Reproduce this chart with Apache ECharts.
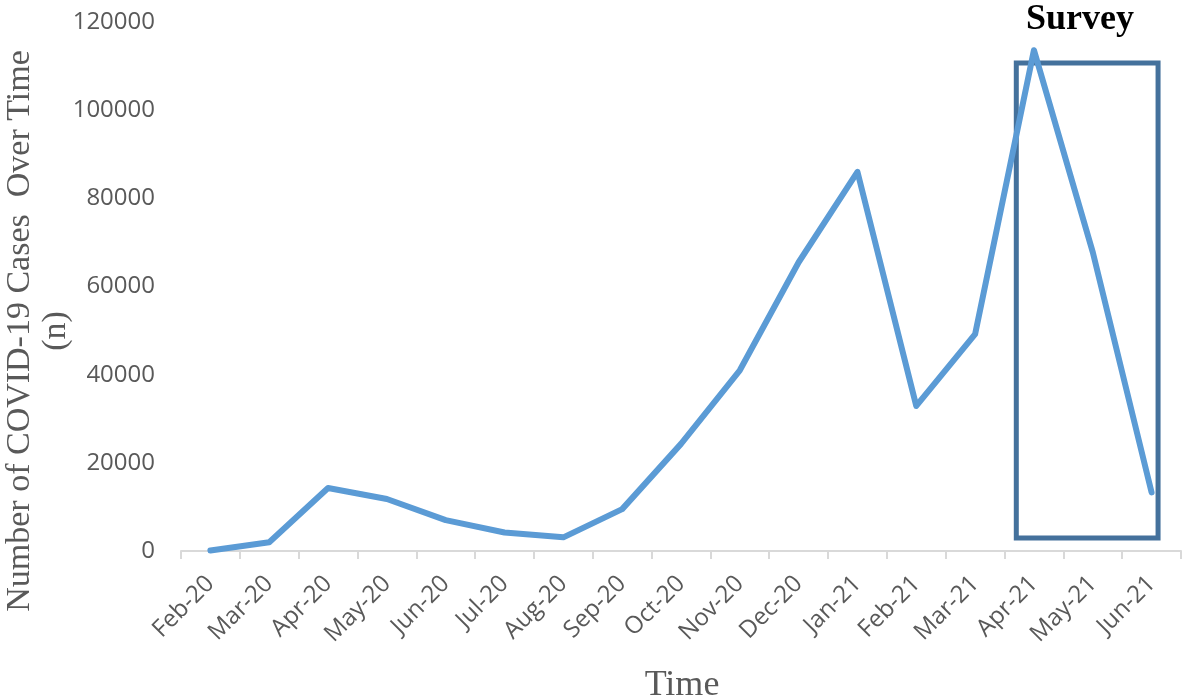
<!DOCTYPE html>
<html>
<head>
<meta charset="utf-8">
<script src="https://cdn.jsdelivr.net/npm/echarts@6/dist/echarts.min.js"></script>
<style>html,body{margin:0;padding:0;background:#fff;}#c{width:1184px;height:699px;}</style>
</head>
<body>
<div id="c"></div>
<script>
const categories = ['Feb-20','Mar-20','Apr-20','May-20','Jun-20','Jul-20','Aug-20','Sep-20','Oct-20','Nov-20','Dec-20','Jan-21','Feb-21','Mar-21','Apr-21','May-21','Jun-21'];
const cases = [100, 2000, 14300, 11800, 7000, 4200, 3100, 9500, 24300, 41000, 65500, 86000, 32900, 49200, 113600, 67800, 13300];
const yTicks = {min: 0, max: 120000, interval: 20000};
// Survey box: [xStart(category position), yBottom, xEnd, yTop]
const surveyBox = [[13.7, 2950, 16.11, 110700]];

const chart = echarts.init(document.getElementById('c'));
chart.setOption({
  animation: false,
  grid: {left: 181, right: 3, top: 22, bottom: 148, containLabel: false},
  xAxis: [{
    type: 'category',
    data: categories,
    boundaryGap: true,
    axisLine: {show: true, lineStyle: {color: '#d9d9d9', width: 2}},
    axisTick: {show: true, length: 8, lineStyle: {color: '#d9d9d9', width: 2}},
    axisLabel: {rotate: 45, margin: 29, fontFamily: 'Open Sans', fontSize: 24, color: '#595959', interval: 0},
    splitLine: {show: false}
  }, {
    type: 'value',
    min: -0.5, max: 16.5,
    show: false
  }],
  yAxis: {
    type: 'value',
    min: yTicks.min, max: yTicks.max, interval: yTicks.interval,
    axisLine: {show: false},
    axisTick: {show: false},
    splitLine: {show: false},
    axisLabel: {margin: 26, fontFamily: 'Open Sans', fontSize: 24, color: '#595959', formatter: function (v) { return String(v); }}
  },
  graphic: [
    {type: 'text', x: 38, y: 331, rotation: Math.PI / 2,
      style: {text: 'Number of COVID-19 Cases  Over Time\n(n)', font: '34px "Liberation Serif"', fill: '#595959', align: 'center', verticalAlign: 'middle', lineHeight: 36}},
    {type: 'text', x: 682, y: 686,
      style: {text: 'Time', font: '36px "Liberation Serif"', fill: '#595959', align: 'center', verticalAlign: 'middle'}},
    {type: 'text', x: 1080, y: 20,
      style: {text: 'Survey', font: 'bold 36px "Liberation Serif"', fill: '#000', align: 'center', verticalAlign: 'middle'}}
  ],
  series: [{
    type: 'custom',
    xAxisIndex: 1,
    yAxisIndex: 0,
    z: 2,
    silent: true,
    data: surveyBox,
    renderItem: function (params, api) {
      const p1 = api.coord([api.value(0), api.value(3)]);
      const p2 = api.coord([api.value(2), api.value(1)]);
      return {type: 'rect', shape: {x: p1[0], y: p1[1], width: p2[0] - p1[0], height: p2[1] - p1[1]},
        style: {fill: 'none', stroke: '#44719c', lineWidth: 5}};
    }
  }, {
    type: 'line',
    data: cases,
    z: 3,
    symbol: 'none',
    lineStyle: {color: '#5b9bd5', width: 6, join: 'round', cap: 'round'}
  }]
});
</script>
</body>
</html>
